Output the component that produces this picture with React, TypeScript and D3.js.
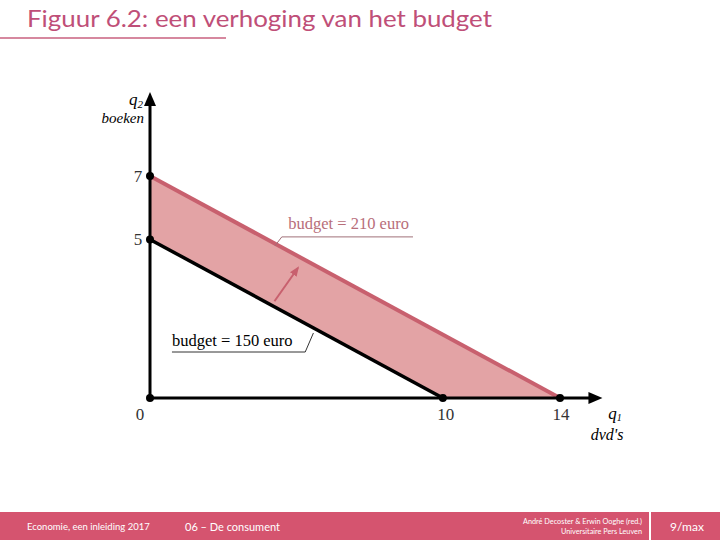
import React from 'react';
import * as d3 from 'd3';

// Budget lines as intercepts on q1 (dvd's) and q2 (boeken)
const budgetOld = [
  {q1: 0, q2: 5},
  {q1: 10, q2: 0},
];
const budgetNew = [
  {q1: 0, q2: 7},
  {q1: 14, q2: 0},
];
const xTicks = [0, 10, 14];
const yTicks = [5, 7];
const labelOld = 'budget = 150 euro';
const labelNew = 'budget = 210 euro';
const title = 'Figuur 6.2: een verhoging van het budget';

const W = 720;
const H = 540;
const PINK = '#d5546f';
const LINE_NEW = '#c8606e';
const FILL = '#e3a3a5';
const SERIF = '"Liberation Serif", "DejaVu Serif", serif';
const SANS = 'Lato, "Open Sans", sans-serif';

export default function App() {
  const x = d3.scaleLinear().domain([0, 14]).range([150, 560]);
  const y = d3.scaleLinear().domain([0, 7]).range([398, 176]);

  const line = d3
    .line<{q1: number; q2: number}>()
    .x((d) => x(d.q1))
    .y((d) => y(d.q2));

  // shaded band between the two budget lines
  const band = [...budgetNew, ...budgetOld.slice().reverse()];
  const bandPath = line(band) + 'Z';

  const xEnd = 15.45;
  const yEnd = 9.65;

  return (
    <svg
      width={W}
      height={H}
      style={{position: 'absolute', left: 0, top: 0, background: '#fff'}}
    >
      <defs>
        <marker
          id="arr"
          viewBox="0 0 10 10"
          refX="8"
          refY="5"
          markerWidth="5"
          markerHeight="5"
          orient="auto"
        >
          <path d="M0,1 L10,5 L0,9 Z" fill={LINE_NEW} />
        </marker>
      </defs>

      {/* title */}
      <text
        x={27}
        y={27}
        fontFamily={SANS}
        fontSize={23}
        fill="#bf4f78"
        textLength={465}
        lengthAdjust="spacingAndGlyphs"
      >
        {title}
      </text>
      <line x1={0} x2={226} y1={38} y2={38} stroke="#c9607f" strokeWidth={1.5} />

      {/* band + budget lines */}
      <path d={bandPath} fill={FILL} />
      <path d={line(budgetNew)!} fill="none" stroke={LINE_NEW} strokeWidth={4} />
      <path d={line(budgetOld)!} fill="none" stroke="#000" strokeWidth={3.5} />

      {/* axes */}
      <line x1={x(0)} x2={x(xEnd) - 8} y1={y(0)} y2={y(0)} stroke="#000" strokeWidth={3} />
      <path
        d={`M${x(xEnd)},${y(0)} L${x(xEnd) - 14},${y(0) - 6} L${x(xEnd) - 14},${y(0) + 6} Z`}
        fill="#000"
      />
      <line x1={x(0)} x2={x(0)} y1={y(0)} y2={y(yEnd) + 8} stroke="#000" strokeWidth={3} />
      <path
        d={`M${x(0)},${y(yEnd)} L${x(0) - 6},${y(yEnd) + 14} L${x(0) + 6},${y(yEnd) + 14} Z`}
        fill="#000"
      />

      {/* tick dots and labels */}
      {xTicks.map((t) => (
        <g key={'x' + t}>
          <circle cx={x(t)} cy={y(0)} r={4} fill="#000" />
          <text
            x={t === 0 ? x(t) - 10 : x(t) + (t === 10 ? 3 : 1)}
            y={y(0) + 22}
            textAnchor="middle"
            fontFamily={SERIF}
            fontSize={17}
            fill="#333"
          >
            {t}
          </text>
        </g>
      ))}
      {yTicks.map((t) => (
        <g key={'y' + t}>
          <circle cx={x(0)} cy={y(t)} r={4} fill="#000" />
          <text
            x={x(0) - 12}
            y={y(t) + 6}
            textAnchor="middle"
            fontFamily={SERIF}
            fontSize={17}
            fill="#333"
          >
            {t}
          </text>
        </g>
      ))}

      {/* axis titles */}
      <text x={x(0) - 7} y={y(yEnd) + 13} textAnchor="end" fontFamily={SERIF} fontStyle="italic" fontSize={17}>
        q<tspan fontSize={11} dy={3}>2</tspan>
      </text>
      <text x={x(0) - 6} y={y(yEnd) + 31} textAnchor="end" fontFamily={SERIF} fontStyle="italic" fontSize={15}>
        boeken
      </text>
      <text x={x(15.65)} y={y(0) + 21} fontFamily={SERIF} fontStyle="italic" fontSize={17}>
        q<tspan fontSize={10} dy={2}>1</tspan>
      </text>
      <text x={x(15.05)} y={y(0) + 42} fontFamily={SERIF} fontStyle="italic" fontSize={16}>
        dvd's
      </text>

      {/* shift arrow */}
      <line
        x1={x(4.25)}
        y1={y(3.05)}
        x2={x(5.05)}
        y2={y(4.1)}
        stroke={LINE_NEW}
        strokeWidth={2}
        markerEnd="url(#arr)"
      />

      {/* label new budget */}
      <text x={x(4.72)} y={y(5.32)} fontFamily={SERIF} fontSize={16.5} fill="#b86e7a">
        {labelNew}
      </text>
      <path
        d={`M${x(4.27)},${y(4.8)} L${x(4.5)},${y(5.08)} L${x(8.98)},${y(5.08)}`}
        fill="none"
        stroke="#a07078"
        strokeWidth={1}
      />

      {/* label old budget */}
      <text x={x(0.75)} y={y(1.64)} fontFamily={SERIF} fontSize={16.5} fill="#000">
        {labelOld}
      </text>
      <path
        d={`M${x(0.75)},${y(1.45)} L${x(5.3)},${y(1.45)} L${x(5.58)},${y(2.05)}`}
        fill="none"
        stroke="#333"
        strokeWidth={1}
      />

      {/* footer */}
      <rect x={0} y={512} width={W} height={H - 512} fill={PINK} />
      <line x1={650} x2={650} y1={512} y2={H} stroke="#fff" strokeWidth={2} />
      <text x={27} y={530} fontFamily={SANS} fontSize={9.5} fill="#fff">
        Economie, een inleiding 2017
      </text>
      <text x={185} y={531} fontFamily={SANS} fontSize={11} fill="#fff">
        06 – De consument
      </text>
      <text x={642} y={524} textAnchor="end" fontFamily={SANS} fontSize={7.3} fill="#fff">
        André Decoster &amp; Erwin Ooghe (red.)
      </text>
      <text x={642} y={534} textAnchor="end" fontFamily={SANS} fontSize={7.3} fill="#fff">
        Universitaire Pers Leuven
      </text>
      <text x={670} y={531} fontFamily={SANS} fontSize={12} fill="#fff">
        9/max
      </text>
    </svg>
  );
}
